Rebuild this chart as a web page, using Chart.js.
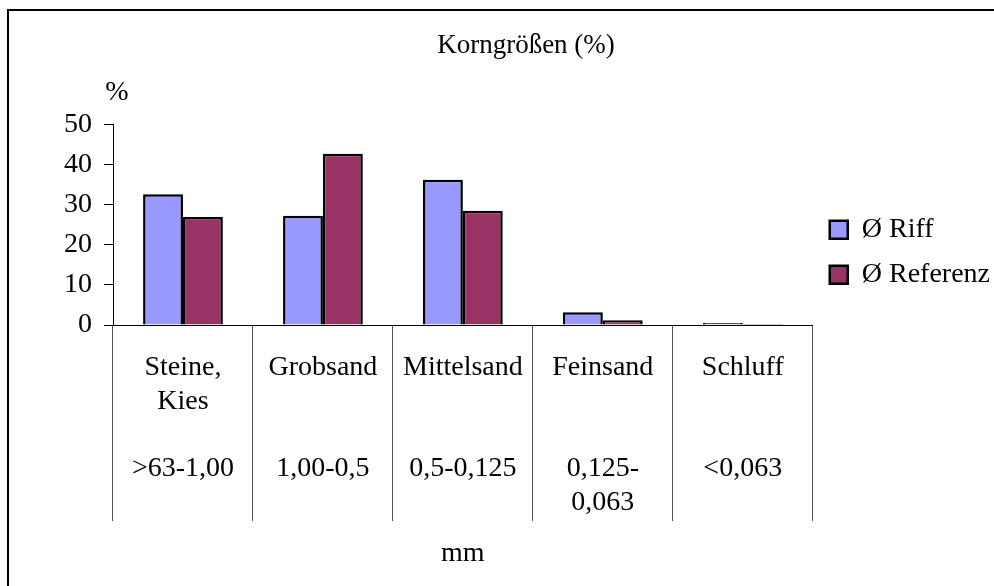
<!DOCTYPE html>
<html lang="de">
<head>
    <meta charset="UTF-8">
    <title>Korngrößen</title>
    <script src="https://cdn.jsdelivr.net/npm/chart.js"></script>
    <style>
        html, body { margin: 0; padding: 0; background: #fff; overflow: hidden; }
        .wrap { position: relative; width: 994px; height: 586px; }
        .frame {
            position: absolute; left: 7px; top: 9px; width: 1100px; height: 700px;
            border: 2px solid #000; pointer-events: none;
        }
    </style>
</head>
<body>
    <div class="wrap">
        <canvas id="chart" width="994" height="586"></canvas>
        <div class="frame"></div>
    </div>

    <script>
        // categories (multi-line, as in the original sheet)
        const categories = [
            ['Steine,', 'Kies', '', '>63-1,00'],
            ['Grobsand', '', '', '1,00-0,5'],
            ['Mittelsand', '', '', '0,5-0,125'],
            ['Feinsand', '', '', '0,125-', '0,063'],
            ['Schluff', '', '', '<0,063']
        ];
        const riff = [32.6, 27.2, 36.2, 3.2, 0.5];
        const referenz = [26.9, 42.7, 28.5, 1.2, 0.25];
        const yTicks = [0, 10, 20, 30, 40, 50];

        const serif = 'Liberation Serif';

        // "%" label above the y axis
        const percentLabel = {
            id: 'percentLabel',
            afterDraw(chart) {
                const ctx = chart.ctx;
                const y = chart.scales.y;
                ctx.save();
                ctx.font = '28px "' + serif + '"';
                ctx.fillStyle = '#000';
                ctx.textAlign = 'center';
                ctx.textBaseline = 'middle';
                ctx.fillText('%', y.right + 4, y.top - 32);
                ctx.restore();
            }
        };

        new Chart(document.getElementById('chart'), {
            type: 'bar',
            data: {
                labels: categories,
                datasets: [
                    {
                        label: 'Ø Riff',
                        data: riff,
                        backgroundColor: '#9999FF',
                        borderColor: '#000',
                        borderWidth: 2.5,
                        categoryPercentage: 0.57,
                        barPercentage: 1
                    },
                    {
                        label: 'Ø Referenz',
                        data: referenz,
                        backgroundColor: '#993366',
                        borderColor: '#000',
                        borderWidth: 2.5,
                        categoryPercentage: 0.57,
                        barPercentage: 1
                    }
                ]
            },
            options: {
                responsive: false,
                animation: false,
                layout: { padding: { left: 52, right: -6, top: 0, bottom: 0 } },
                plugins: {
                    title: {
                        display: true,
                        text: 'Korngrößen (%)',
                        color: '#000',
                        font: { family: serif, size: 27, weight: 'normal' },
                        padding: { top: 30, bottom: 62 }
                    },
                    legend: {
                        position: 'right',
                        fullSize: false,
                        labels: {
                            color: '#000',
                            font: { family: serif, size: 28 },
                            boxWidth: 18,
                            boxHeight: 18,
                            padding: 17
                        },
                        title: {
                            display: true,
                            text: ' ',
                            font: { size: 10 },
                            padding: { top: 0, bottom: 43 }
                        }
                    },
                    tooltip: { enabled: false }
                },
                scales: {
                    x: {
                        afterFit(scale) {
                            scale.height = 261;
                        },
                        grid: {
                            display: true,
                            drawOnChartArea: false,
                            drawTicks: true,
                            tickLength: 196,
                            offset: true,
                            color: '#555'
                        },
                        border: { display: true, color: '#000', width: 1 },
                        ticks: {
                            color: '#000',
                            font: { family: serif, size: 28, lineHeight: 1.2 },
                            padding: -170,
                            maxRotation: 0,
                            autoSkip: false
                        },
                        title: {
                            display: true,
                            text: 'mm',
                            color: '#000',
                            font: { family: serif, size: 28 },
                            padding: { top: 0, bottom: 16 }
                        }
                    },
                    y: {
                        min: 0,
                        max: 50,
                        afterBuildTicks(scale) {
                            scale.ticks = yTicks.map(v => ({ value: v }));
                        },
                        grid: {
                            display: true,
                            drawOnChartArea: false,
                            drawTicks: true,
                            tickLength: 9,
                            color: '#000'
                        },
                        border: { display: true, color: '#000', width: 1 },
                        ticks: {
                            color: '#000',
                            font: { family: serif, size: 28 },
                            padding: 12
                        }
                    }
                }
            },
            plugins: [percentLabel]
        });
    </script>
</body>
</html>
